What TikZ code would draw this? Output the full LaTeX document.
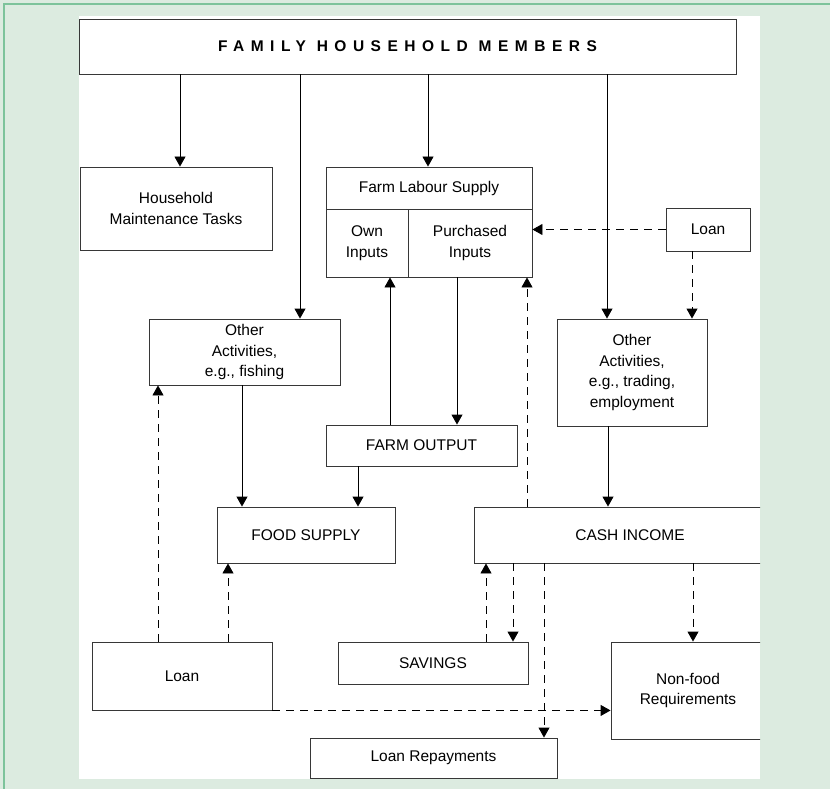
\documentclass[tikz,border=0pt]{standalone}
\usepackage{fontspec}
\setmainfont{Liberation Sans}
\newfontfamily\spacedfont[LetterSpace=42]{Liberation Sans}
\usetikzlibrary{arrows.meta}
\definecolor{panelgreen}{RGB}{220,235,224}
\definecolor{edgegreen}{RGB}{125,195,155}
\definecolor{boxline}{RGB}{55,55,55}

\begin{document}
\begin{tikzpicture}[x=1pt,y=-1pt]
\tikzstyle{box}=[draw=boxline, line width=0.9pt, rectangle, inner sep=0pt, align=center, font=\fontsize{15.5}{20.5}\selectfont]
\tikzstyle{flow}=[draw=black, line width=0.9pt, -{Triangle[width=11pt,length=10pt]}]
\tikzstyle{dflow}=[flow, dash pattern=on 8pt off 6pt]
\useasboundingbox (0,0) rectangle (830,789);
\fill[panelgreen] (0,0) rectangle (830,789);
\draw[edgegreen, line width=1.2pt] (4,789) -- (4,4) -- (830,4);
\fill[white] (79,16) rectangle (760,779);
\begin{scope}
\clip (79,16) rectangle (760,779);
% boxes
\node[box, minimum width=657pt, minimum height=55pt] (fam) at (407.5,46.5) {\spacedfont\bfseries FAMILY HOUSEHOLD MEMBERS};
\node[box, minimum width=192pt, minimum height=83pt] (hmt) at (176,208.5) {Household\\Maintenance Tasks};
\node[box, minimum width=206pt, minimum height=42pt] (fls) at (429,188) {Farm Labour Supply};
\node[box, minimum width=82pt, minimum height=68pt] (own) at (367,243) {Own\\Inputs};
\node[box, minimum width=124pt, minimum height=68pt] (pur) at (470,243) {Purchased\\Inputs};
\node[box, minimum width=84pt, minimum height=43pt] (loanA) at (708,229.5) {Loan};
\node[box, minimum width=191pt, minimum height=66pt] (ofish) at (244.5,352) {Other\\Activities,\\e.g., fishing};
\node[box, minimum width=150pt, minimum height=107pt] (otrade) at (632,372.5) {Other\\Activities,\\e.g., trading,\\employment};
\node[box, minimum width=191pt, minimum height=41pt] (fout) at (421.5,445.5) {FARM OUTPUT};
\node[box, minimum width=178pt, minimum height=56pt] (food) at (306,535) {FOOD SUPPLY};
\node[box, minimum width=312pt, minimum height=56pt] (cash) at (630,535) {CASH INCOME};
\node[box, minimum width=180pt, minimum height=68pt] (loanB) at (182,676) {Loan};
\node[box, minimum width=190pt, minimum height=42pt] (sav) at (433,663) {SAVINGS};
\node[box, minimum width=154pt, minimum height=97pt] (nonfood) at (688,690.5) {Non-food\\Requirements};
\node[box, minimum width=247pt, minimum height=40pt] (rep) at (433.5,758) {Loan Repayments};
% solid flows
\draw[flow] (fam.south -| 180,0) -- (hmt.north -| 180,0);
\draw[flow] (fam.south -| 300,0) -- (ofish.north -| 300,0);
\draw[flow] (fam.south -| 428,0) -- (fls.north -| 428,0);
\draw[flow] (fam.south -| 607,0) -- (otrade.north -| 607,0);
\draw[flow] (fout.north -| 390,0) -- (own.south -| 390,0);
\draw[flow] (pur.south -| 457,0) -- (fout.north -| 457,0);
\draw[flow] (ofish.south -| 242,0) -- (food.north -| 242,0);
\draw[flow] (fout.south -| 358,0) -- (food.north -| 358,0);
\draw[flow] (otrade.south -| 608,0) -- (cash.north -| 608,0);
% dashed flows
\draw[dflow] (loanA.west) -- (pur.east |- loanA.west);
\draw[dflow] (loanA.south -| 692,0) -- (otrade.north -| 692,0);
\draw[dflow] (cash.north -| 527,0) -- (pur.south -| 527,0);
\draw[dflow] (loanB.north -| 158,0) -- (ofish.south -| 158,0);
\draw[dflow] (loanB.north -| 228,0) -- (food.south -| 228,0);
\draw[dflow] (loanB.south east) -- (nonfood.west |- loanB.south east);
\draw[dflow] (sav.north -| 486,0) -- (cash.south -| 486,0);
\draw[dflow] (cash.south -| 513,0) -- (sav.north -| 513,0);
\draw[dflow] (cash.south -| 544,0) -- (rep.north -| 544,0);
\draw[dflow] (cash.south -| 693,0) -- (nonfood.north -| 693,0);
\end{scope}
\end{tikzpicture}
\end{document}
